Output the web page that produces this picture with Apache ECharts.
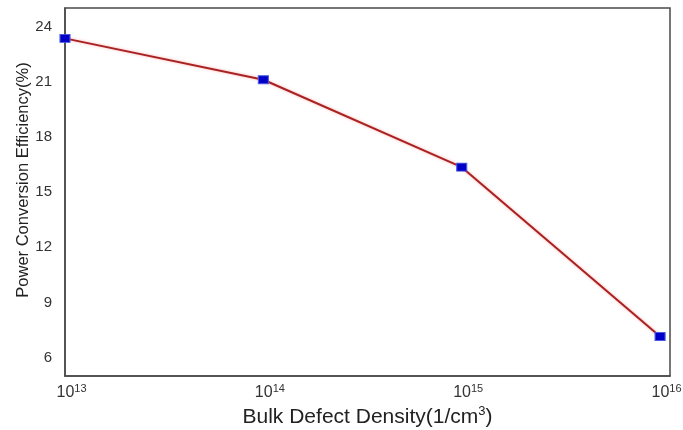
<!DOCTYPE html>
<html>
<head>
<meta charset="utf-8">
<script src="https://cdn.jsdelivr.net/npm/echarts@6/dist/echarts.min.js"></script>
<style>html,body{margin:0;padding:0;background:#fff}#c{width:683px;height:430px}</style>
</head>
<body>
<div id="c"></div>
<script>
// Bulk defect density exponents (density = 10^exp, 1/cm^3)
var densityExp = [13, 14, 15, 16];
// Power conversion efficiency (%)
var efficiency = [23.35, 21.1, 16.35, 7.15];
var yTicks = [6, 9, 12, 15, 18, 21, 24];

var chart = echarts.init(document.getElementById('c'), null, {renderer: 'canvas'});
var font = '"Liberation Sans", Arial, sans-serif';
chart.setOption({
  animation: false,
  backgroundColor: '#fff',
  grid: {left: 65, right: 13, top: 8, bottom: 54, outerBoundsMode: 'none', containLabel: false,
    show: true, borderColor: '#4a4a4a', borderWidth: 1.5, backgroundColor: 'transparent'},
  xAxis: {
    type: 'value', min: 13, max: 16.05, interval: 1,
    name: '{t|Bulk Defect Density(1/cm}{s|3}{t|)}',
    nameLocation: 'middle', nameGap: 29, nameMoveOverlap: false,
    nameTextStyle: {fontFamily: font, fontSize: 21, color: '#222',
      rich: {
        t: {fontSize: 21, fontFamily: font, color: '#222'},
        s: {fontSize: 13, verticalAlign: 'top', padding: [0,0,12,0], fontFamily: font, color: '#222'}
      }},
    axisLine: {show: true, lineStyle: {color: '#4a4a4a', width: 1.5}},
    axisTick: {show: false}, splitLine: {show: false},
    axisLabel: {
      margin: 7, fontFamily: font, fontSize: 16, color: '#333',
      formatter: function (v) { return Math.abs(v - Math.round(v)) < 1e-6 ? '{sp|}{b|10}{sup|' + Math.round(v) + '}' : ''; },
      rich: {
        sp: {width: 13, fontSize: 16},
        b: {fontSize: 16, fontFamily: font, color: '#333'},
        sup: {fontSize: 11, verticalAlign: 'top', padding: [0,0,8,0], fontFamily: font, color: '#333'}
      }
    }
  },
  yAxis: {
    type: 'value', min: 5, max: 25, interval: 1,
    name: 'Power Conversion Efficiency(%)',
    nameLocation: 'middle', nameGap: 33, nameMoveOverlap: false,
    nameTextStyle: {fontFamily: font, fontSize: 16.5, color: '#222', padding: [0, 0, 0, 24]},
    axisLine: {show: true, lineStyle: {color: '#4a4a4a', width: 1.5}},
    axisTick: {show: false}, splitLine: {show: false},
    axisLabel: {
      margin: 13, fontFamily: font, fontSize: 15, color: '#333',
      formatter: function (v) { return yTicks.indexOf(Math.round(v)) >= 0 && Math.abs(v - Math.round(v)) < 1e-6 ? String(Math.round(v)) : ''; }
    }
  },
  series: [{
    type: 'line',
    data: densityExp.map(function (e, i) { return [e, efficiency[i]]; }),
    symbol: 'rect', symbolSize: [10, 8],
    itemStyle: {color: '#0000c8', borderColor: '#4a5ae0', borderWidth: 1},
    lineStyle: {color: '#a82222', width: 2, shadowColor: 'rgba(255,120,120,0.6)', shadowBlur: 3},
    clip: false
  }]
});
</script>
</body>
</html>
